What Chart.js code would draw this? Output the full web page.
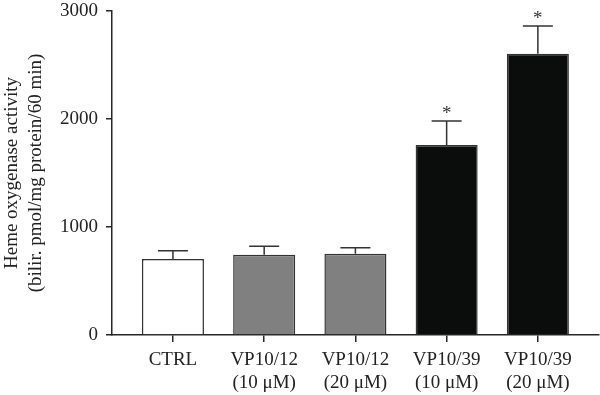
<!DOCTYPE html>
<html>
<head>
<meta charset="utf-8">
<script src="https://cdn.jsdelivr.net/npm/chart.js@4/dist/chart.umd.min.js"></script>
<style>
    html, body { margin: 0; padding: 0; background: #fff; }
    #wrap { width: 600px; height: 395px; position: relative; }
</style>
</head>
<body>
<div id="wrap"><canvas id="hoChart"></canvas></div>
<script>
const categories = [
    ['CTRL'],
    ['VP10/12', '(10 \u03BCM)'],
    ['VP10/12', '(20 \u03BCM)'],
    ['VP10/39', '(10 \u03BCM)'],
    ['VP10/39', '(20 \u03BCM)'],
];
const meanValues = [704, 744, 753, 1759, 2605];
const errorValues = [76, 77, 55, 222, 256];
const significant = [false, false, false, true, true];
const yTicks = [0, 1000, 2000, 3000];

const fontFamily = '"Liberation Serif", "Times New Roman", serif';
const axisColor = '#262626';
const barColors = ['#ffffff', '#808080', '#808080', '#0b0d0c', '#0b0d0c'];

const errorBarPlugin = {
    id: 'errorBars',
    afterDatasetsDraw(chart) {
        const { ctx, scales } = chart;
        ctx.save();
        ctx.strokeStyle = '#333';
        ctx.lineWidth = 1.5;
        ctx.fillStyle = '#333';
        ctx.font = '19px ' + fontFamily;
        ctx.textAlign = 'center';
        ctx.textBaseline = 'middle';
        meanValues.forEach((v, i) => {
            const x = scales.x.getPixelForValue(i);
            const yTop = scales.y.getPixelForValue(v);
            const yCap = scales.y.getPixelForValue(v + errorValues[i]);
            ctx.beginPath();
            ctx.moveTo(x, yTop);
            ctx.lineTo(x, yCap);
            ctx.moveTo(x - 15, yCap);
            ctx.lineTo(x + 15, yCap);
            ctx.stroke();
            if (significant[i]) {
                ctx.fillText('*', x, yCap - 7);
            }
        });
        ctx.restore();
    },
};

new Chart(document.getElementById('hoChart'), {
    type: 'bar',
    data: {
        datasets: [
            {
                data: meanValues.map((v, i) => ({ x: i, y: v })),
                backgroundColor: barColors,
                borderColor: '#333',
                borderWidth: 1.5,
                barPercentage: 0.68,
                categoryPercentage: 1,
            },
        ],
    },
    options: {
        responsive: true,
        maintainAspectRatio: false,
        animation: false,
        layout: { padding: { top: 11, right: 1, left: 0, bottom: 0 } },
        scales: {
            x: {
                type: 'linear',
                offset: false,
                min: -0.668,
                max: 4.67,
                afterBuildTicks(scale) {
                    scale.ticks = categories.map((c, i) => ({ value: i }));
                },
                afterFit(scale) {
                    scale.height = 60;
                    scale.paddingLeft = 0;
                    scale.paddingRight = 0;
                },
                ticks: {
                    callback(value) {
                        return categories[value];
                    },
                    font: { family: fontFamily, size: 19, lineHeight: 1.2 },
                    color: '#222',
                    padding: 7,
                    maxRotation: 0,
                    autoSkip: false,
                },
                grid: {
                    display: true,
                    offset: false,
                    drawOnChartArea: false,
                    drawTicks: true,
                    tickLength: 7,
                    color: axisColor,
                    lineWidth: 1.5,
                },
                border: { display: true, color: axisColor, width: 1.5 },
            },
            y: {
                min: 0,
                max: 3000,
                afterBuildTicks(scale) {
                    scale.ticks = yTicks.map((v) => ({ value: v }));
                },
                afterFit(scale) {
                    scale.width = 112;
                    scale.paddingTop = 0;
                    scale.paddingBottom = 0;
                },
                ticks: {
                    callback(value) {
                        return String(value);
                    },
                    font: { family: fontFamily, size: 19 },
                    color: '#222',
                    padding: 8,
                },
                grid: {
                    display: true,
                    drawOnChartArea: false,
                    drawTicks: true,
                    tickLength: 6,
                    color: axisColor,
                    lineWidth: 1.5,
                },
                border: { display: true, color: axisColor, width: 1.5 },
                title: {
                    display: true,
                    text: ['Heme oxygenase activity', '(bilir. pmol/mg protein/60 min)'],
                    font: { family: fontFamily, size: 19, lineHeight: 1.25 },
                    color: '#222',
                    padding: { top: 0, bottom: 0 },
                },
            },
        },
        plugins: {
            legend: { display: false },
            tooltip: { enabled: false },
        },
    },
    plugins: [errorBarPlugin],
});
</script>
</body>
</html>
